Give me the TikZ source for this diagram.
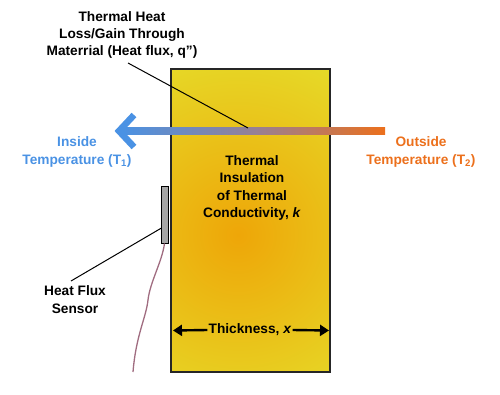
\documentclass[tikz,border=0pt]{standalone}
\usepackage{fontspec}
\setmainfont{Liberation Sans}
\usetikzlibrary{arrows.meta}
\definecolor{inblue}{RGB}{74,146,228}
\definecolor{outorange}{RGB}{236,112,28}
\definecolor{slabyellow}{RGB}{230,218,40}
\definecolor{slaborange}{RGB}{238,166,8}
\definecolor{wire}{RGB}{160,108,128}
\definecolor{midmauve}{RGB}{150,128,150}
\tikzset{
  lbl/.style={font=\bfseries\fontsize{13.7}{17.4}\selectfont, align=center, inner sep=0pt},
  leader/.style={draw=black, line width=1pt},
  dimarrow/.style={line width=2.4pt, -{Triangle[length=9pt,width=11pt]}},
}
\begin{document}
\begin{tikzpicture}[x=1pt,y=-1pt]
\useasboundingbox (0,0) rectangle (500,395);
% slab
\begin{scope}
  \clip (171,69) rectangle (330,372);
  \fill[slabyellow] (171,69) rectangle (330,372);
  \shade[inner color=slaborange, outer color=slabyellow] (238,235) circle (190);
\end{scope}
\node[draw=black!85, line width=2pt, minimum width=159pt, minimum height=303pt, inner sep=0pt] (slab) at (250.5,220.5) {};
% main arrow
\coordinate (tail) at (385,134.3);
\coordinate (shaftend) at (122,127.7);
\shade[left color=inblue, right color=outorange, middle color=midmauve] (shaftend) rectangle (tail);
\coordinate (tipup) at (134,115);
\coordinate (tip) at (119,131);
\coordinate (tipdn) at (134,147);
\draw[inblue, line width=6.5pt, miter limit=10] (tipup) -- (tip) -- (tipdn);
% labels
\node[lbl] (flux) at (122,35) {Thermal Heat\\Loss/Gain Through\\Materrial (Heat flux, q”)};
\coordinate (fluxpt) at (248,128);
\draw[leader] (128,63) -- (fluxpt);
\node[lbl, text=inblue] (inside) at (77,152) {Inside\\Temperature (T\textsubscript{1})};
\node[lbl, text=outorange] (outside) at (421,152) {Outside\\Temperature (T\textsubscript{2})};
\node[lbl] (ins) at (252,188) {Thermal\\Insulation\\of Thermal\\Conductivity, \textit{k}};
% thickness
\node[lbl] (thick) at (250,330) {Thickness, \textit{x}};
\coordinate (tl) at (173,330.5);
\coordinate (tr) at (329,330.5);
\draw[dimarrow] ([xshift=-1pt]thick.west) -- (tl);
\draw[dimarrow] ([xshift=1pt]thick.east) -- (tr);
% sensor
\node[draw=black, fill=gray!70, line width=1pt, minimum width=7pt, minimum height=56pt, inner sep=0pt] (sensor) at (164.5,215) {};
\node[lbl] (sensorlbl) at (75,299.5) {Heat Flux\\Sensor};
\draw[leader] (161.5,228) -- (71,281);
\draw[wire, line width=1.3pt] (sensor.south) .. controls (162,262) and (150,282) .. (148,300) .. controls (146,318) and (136,335) .. (133,372);
\end{tikzpicture}
\end{document}
